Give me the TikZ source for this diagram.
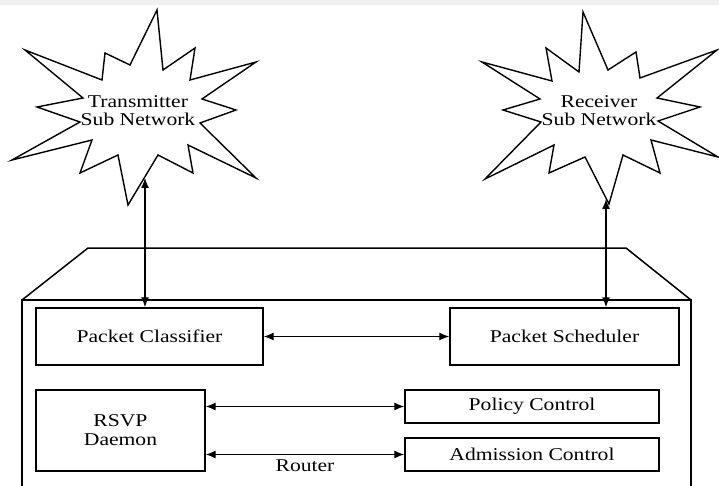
\documentclass[tikz,border=0pt]{standalone}
\usepackage{fontspec}
\setmainfont{Liberation Serif}[FakeStretch=1.2]
\usetikzlibrary{arrows.meta}
\begin{document}
\begin{tikzpicture}[x=1pt,y=-1pt,
  lbl/.style={font=\fontsize{18}{18}\selectfont, align=center, inner sep=0pt},
  blk/.style={draw, line width=1.4pt, inner sep=0pt, font=\fontsize{18}{19}\selectfont, align=center},
  edge/.style={line width=1.5pt},
  biarrow/.style={line width=1.3pt, {Latex[length=10pt,width=8pt]}-{Latex[length=10pt,width=8pt]}},
  starline/.style={draw, line width=1.4pt, line join=miter}]
\useasboundingbox (0,0) rectangle (719,486);
\fill[black!6] (0,0) rectangle (719,5);
% stars
\draw[starline] (157,10) -- (163,70) -- (195,48) -- (190,80) -- (256,62) -- (202,99) -- (236,110) -- (200,123) -- (256,178) -- (188,145) -- (193,173) -- (158,155) -- (128,205) -- (118,155) -- (80,173) -- (92,140) -- (12,160) -- (80,122) -- (37,107) -- (83,98) -- (25,50) -- (102,80) -- (105,53) -- (130,65) -- cycle;
\draw[starline] (583,12) -- (608,70) -- (636,52) -- (640,78) -- (717,50) -- (657,98) -- (700,107) -- (658,121) -- (718,157) -- (651,140) -- (660,173) -- (623,155) -- (609,204) -- (585,157) -- (549,173) -- (554,145) -- (485,179) -- (541,122) -- (503,110) -- (540,99) -- (482,62) -- (552,81) -- (546,48) -- (579,72) -- cycle;
\node[lbl] (tx) at (138,111) {Transmitter\\Sub Network};
\node[lbl] (rx) at (599,111) {Receiver\\Sub Network};
\coordinate (txb) at (145,178);
\coordinate (rxb) at (606,199);
% router outline
\draw[edge] (22,486) -- (22,300) -- (691,300) -- (691,486);
\draw[edge] (22,300) -- (88,248) -- (626,248) -- (691,300);
% blocks
\node[blk, minimum width=227pt, minimum height=57pt] (pc) at (149.5,336.5) {Packet Classifier};
\node[blk, minimum width=229pt, minimum height=57pt] (ps) at (564.5,336.5) {Packet Scheduler};
\node[blk, minimum width=169pt, minimum height=81pt] (rsvp) at (120.5,430.5) {RSVP\\Daemon};
\node[blk, minimum width=254pt, minimum height=33pt] (pol) at (532,406.5) {Policy Control};
\node[blk, minimum width=254pt, minimum height=33pt] (adm) at (532,454.5) {Admission Control};
\node[lbl] (router) at (305,466) {Router};
% connectors
\draw[biarrow] (txb) -- (txb |- pc.north);
\draw[biarrow] (rxb) -- (rxb |- ps.north);
\draw[biarrow] (pc.east) -- (ps.west);
\draw[biarrow] (rsvp.east |- pol.west) -- (pol.west);
\draw[biarrow] (rsvp.east |- adm.west) -- (adm.west);
\end{tikzpicture}
\end{document}
